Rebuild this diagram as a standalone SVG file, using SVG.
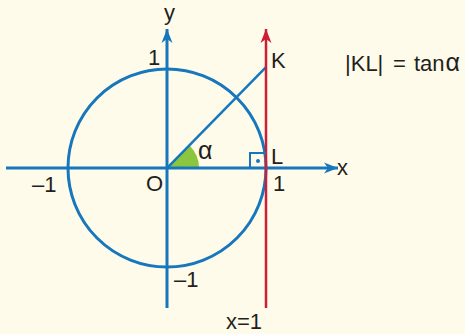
<svg xmlns="http://www.w3.org/2000/svg" width="465" height="334" viewBox="0 0 465 334">
<defs>
<style>
.t{font-family:"Liberation Sans",Arial,sans-serif;font-size:22px;fill:#231f20}
.al{font-size:25px}
.b{stroke:#1777bd;fill:none}
.r{stroke:#cc1f36;fill:none}
</style>
<marker id="ab" markerUnits="userSpaceOnUse" markerWidth="16" markerHeight="12" viewBox="-14 -6 16 12" refX="0" refY="0" orient="auto">
<path d="M0,0 L-14,-5.5 L-10,0 L-14,5.5 Z" fill="#1777bd"/>
</marker>
<marker id="ar" markerUnits="userSpaceOnUse" markerWidth="16" markerHeight="12" viewBox="-14 -6 16 12" refX="0" refY="0" orient="auto">
<path d="M0,0 L-14,-5.5 L-10,0 L-14,5.5 Z" fill="#cc1f36"/>
</marker>
</defs>
<rect width="465" height="334" fill="#fffbea"/>
<g id="angle">
<path d="M167,168 L199,168 A32,32 0 0 0 189.6,145.4 Z" fill="#8cc63f"/>
</g>
<g id="unit-circle">
<circle cx="167" cy="168" r="99" class="b" stroke-width="3"/>
</g>
<g id="connectors">
<line id="x-axis" x1="6" y1="168" x2="338" y2="168" class="b" stroke-width="3" marker-end="url(#ab)"/>
<line id="y-axis" x1="167" y1="308" x2="167" y2="29" class="b" stroke-width="3" marker-end="url(#ab)"/>
<line id="OK" x1="167" y1="168" x2="266" y2="67" class="b" stroke-width="2.5"/>
<line id="tangent" x1="266" y1="308" x2="266" y2="29" class="r" stroke-width="2.5" marker-end="url(#ar)"/>
</g>
<g id="right-angle">
<path d="M250,168 L250,153 L266,153" class="b" stroke-width="2"/>
<circle cx="258" cy="161" r="2" fill="#1777bd"/>
</g>
<g id="labels">
<text class="t" x="164" y="20">y</text>
<text class="t" x="148" y="65">1</text>
<text class="t" x="271" y="68">K</text>
<text class="t" y="71"><tspan x="345">|KL|</tspan><tspan x="393">=</tspan><tspan x="414">tan</tspan><tspan class="al" dx="1">α</tspan></text>
<text class="t al" x="198" y="159">α</text>
<text class="t" x="271" y="164">L</text>
<text class="t" x="337" y="175">x</text>
<text class="t" x="273" y="191">1</text>
<text class="t" x="146" y="191">O</text>
<text class="t" x="32" y="192">–1</text>
<text class="t" x="174" y="287">–1</text>
<text class="t" x="226" y="329">x=1</text>
</g>
</svg>
